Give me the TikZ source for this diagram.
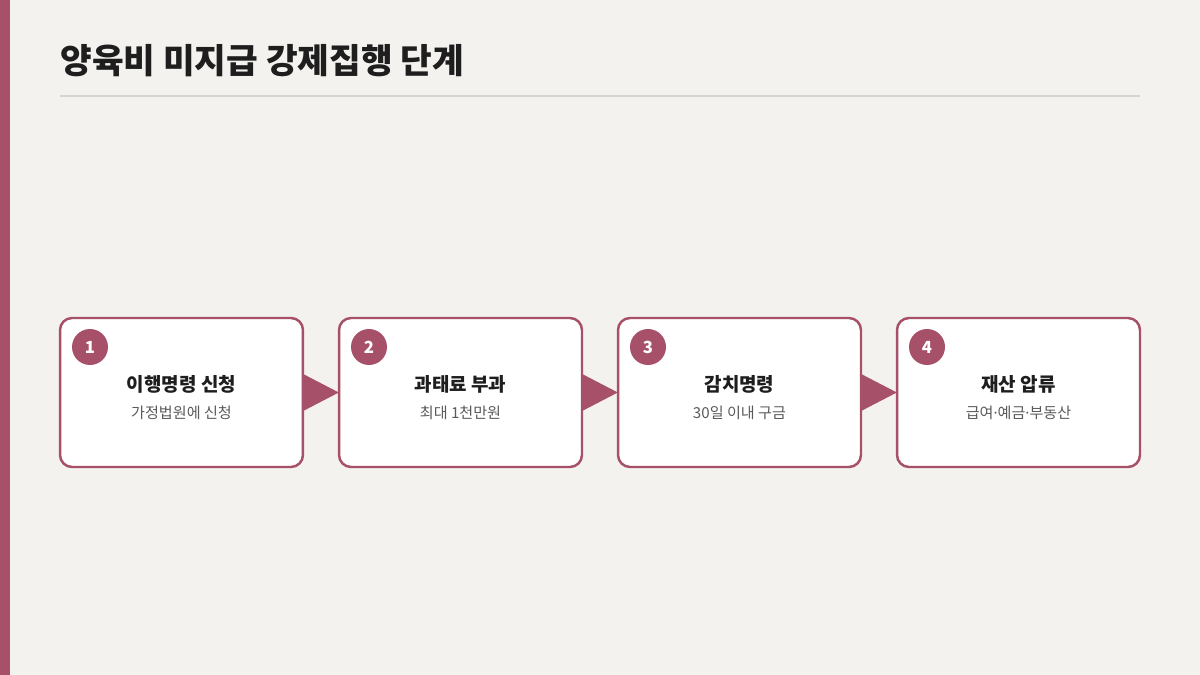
\documentclass[tikz,border=0pt]{standalone}
\usepackage{fontspec}
\setmainfont{Noto Sans CJK KR}
\newfontfamily\dotfont{Noto Sans}
\newcommand{\middot}{{\dotfont ·}}
\usetikzlibrary{positioning}
\definecolor{rose}{HTML}{A6506A}
\definecolor{paper}{HTML}{F4F2EE}
\definecolor{rulegray}{HTML}{D8D5CF}
\definecolor{inkdark}{HTML}{1E1E1E}
\definecolor{inkgray}{HTML}{5A5A5A}
\tikzset{
  stepbox/.style={draw=rose, line width=1.4pt, fill=white, rounded corners=0.24cm,
    minimum width=4.86cm, minimum height=2.98cm, inner sep=0pt},
  numdot/.style={circle, fill=rose, minimum size=0.72cm, inner sep=0pt,
    text=white, font=\fontsize{9.5}{11}\selectfont\bfseries},
  steptitle/.style={text=inkdark, font=\fontsize{10.8}{12}\selectfont\bfseries},
  stepsub/.style={text=inkgray, font=\fontsize{8.6}{10}\selectfont},
  pointer/.style={fill=rose}
}
\begin{document}
\begin{tikzpicture}[x=0.02cm, y=-0.02cm]
    \fill[paper] (0,0) rectangle (1200,675);
    \useasboundingbox (0,0) rectangle (1200,675);
    \fill[rose] (0,0) rectangle (10,675);
    \node[anchor=base west, inner sep=0pt, text=inkdark,
      font=\fontsize{19.6}{22}\selectfont\bfseries] (title) at (60,74) {양육비 미지급 강제집행 단계};
    \draw[rulegray, line width=1.1pt] (60,96) -- (1140,96);
    % steps
    \node[stepbox] (s1) at (181.5,392.5) {};
    \node[stepbox] (s2) at (460.5,392.5) {};
    \node[stepbox] (s3) at (739.5,392.5) {};
    \node[stepbox] (s4) at (1018.5,392.5) {};
    % pointers between steps
    \fill[pointer] ([xshift=-0.04cm, yshift=0.38cm]s1.east) -- ([xshift=0.02cm]s2.west) -- ([xshift=-0.04cm, yshift=-0.38cm]s1.east) -- cycle;
    \fill[pointer] ([xshift=-0.04cm, yshift=0.38cm]s2.east) -- ([xshift=0.02cm]s3.west) -- ([xshift=-0.04cm, yshift=-0.38cm]s2.east) -- cycle;
    \fill[pointer] ([xshift=-0.04cm, yshift=0.38cm]s3.east) -- ([xshift=0.02cm]s4.west) -- ([xshift=-0.04cm, yshift=-0.38cm]s3.east) -- cycle;
    % numbers
    \node[numdot] (n1) at (90,347) {1};
    \node[numdot] (n2) at (369,347) {2};
    \node[numdot] (n3) at (648,347) {3};
    \node[numdot] (n4) at (927,347) {4};
    % texts
    \node[steptitle] (t1) at (181.5,384) {이행명령 신청};
    \node[stepsub] (d1) at (181.5,413) {가정법원에 신청};
    \node[steptitle] (t2) at (460.5,384) {과태료 부과};
    \node[stepsub] (d2) at (460.5,413) {최대 1천만원};
    \node[steptitle] (t3) at (739.5,384) {감치명령};
    \node[stepsub] (d3) at (739.5,413) {30일 이내 구금};
    \node[steptitle] (t4) at (1018.5,384) {재산 압류};
    \node[stepsub] (d4) at (1018.5,413) {급여\middot 예금\middot 부동산};
\end{tikzpicture}
\end{document}
